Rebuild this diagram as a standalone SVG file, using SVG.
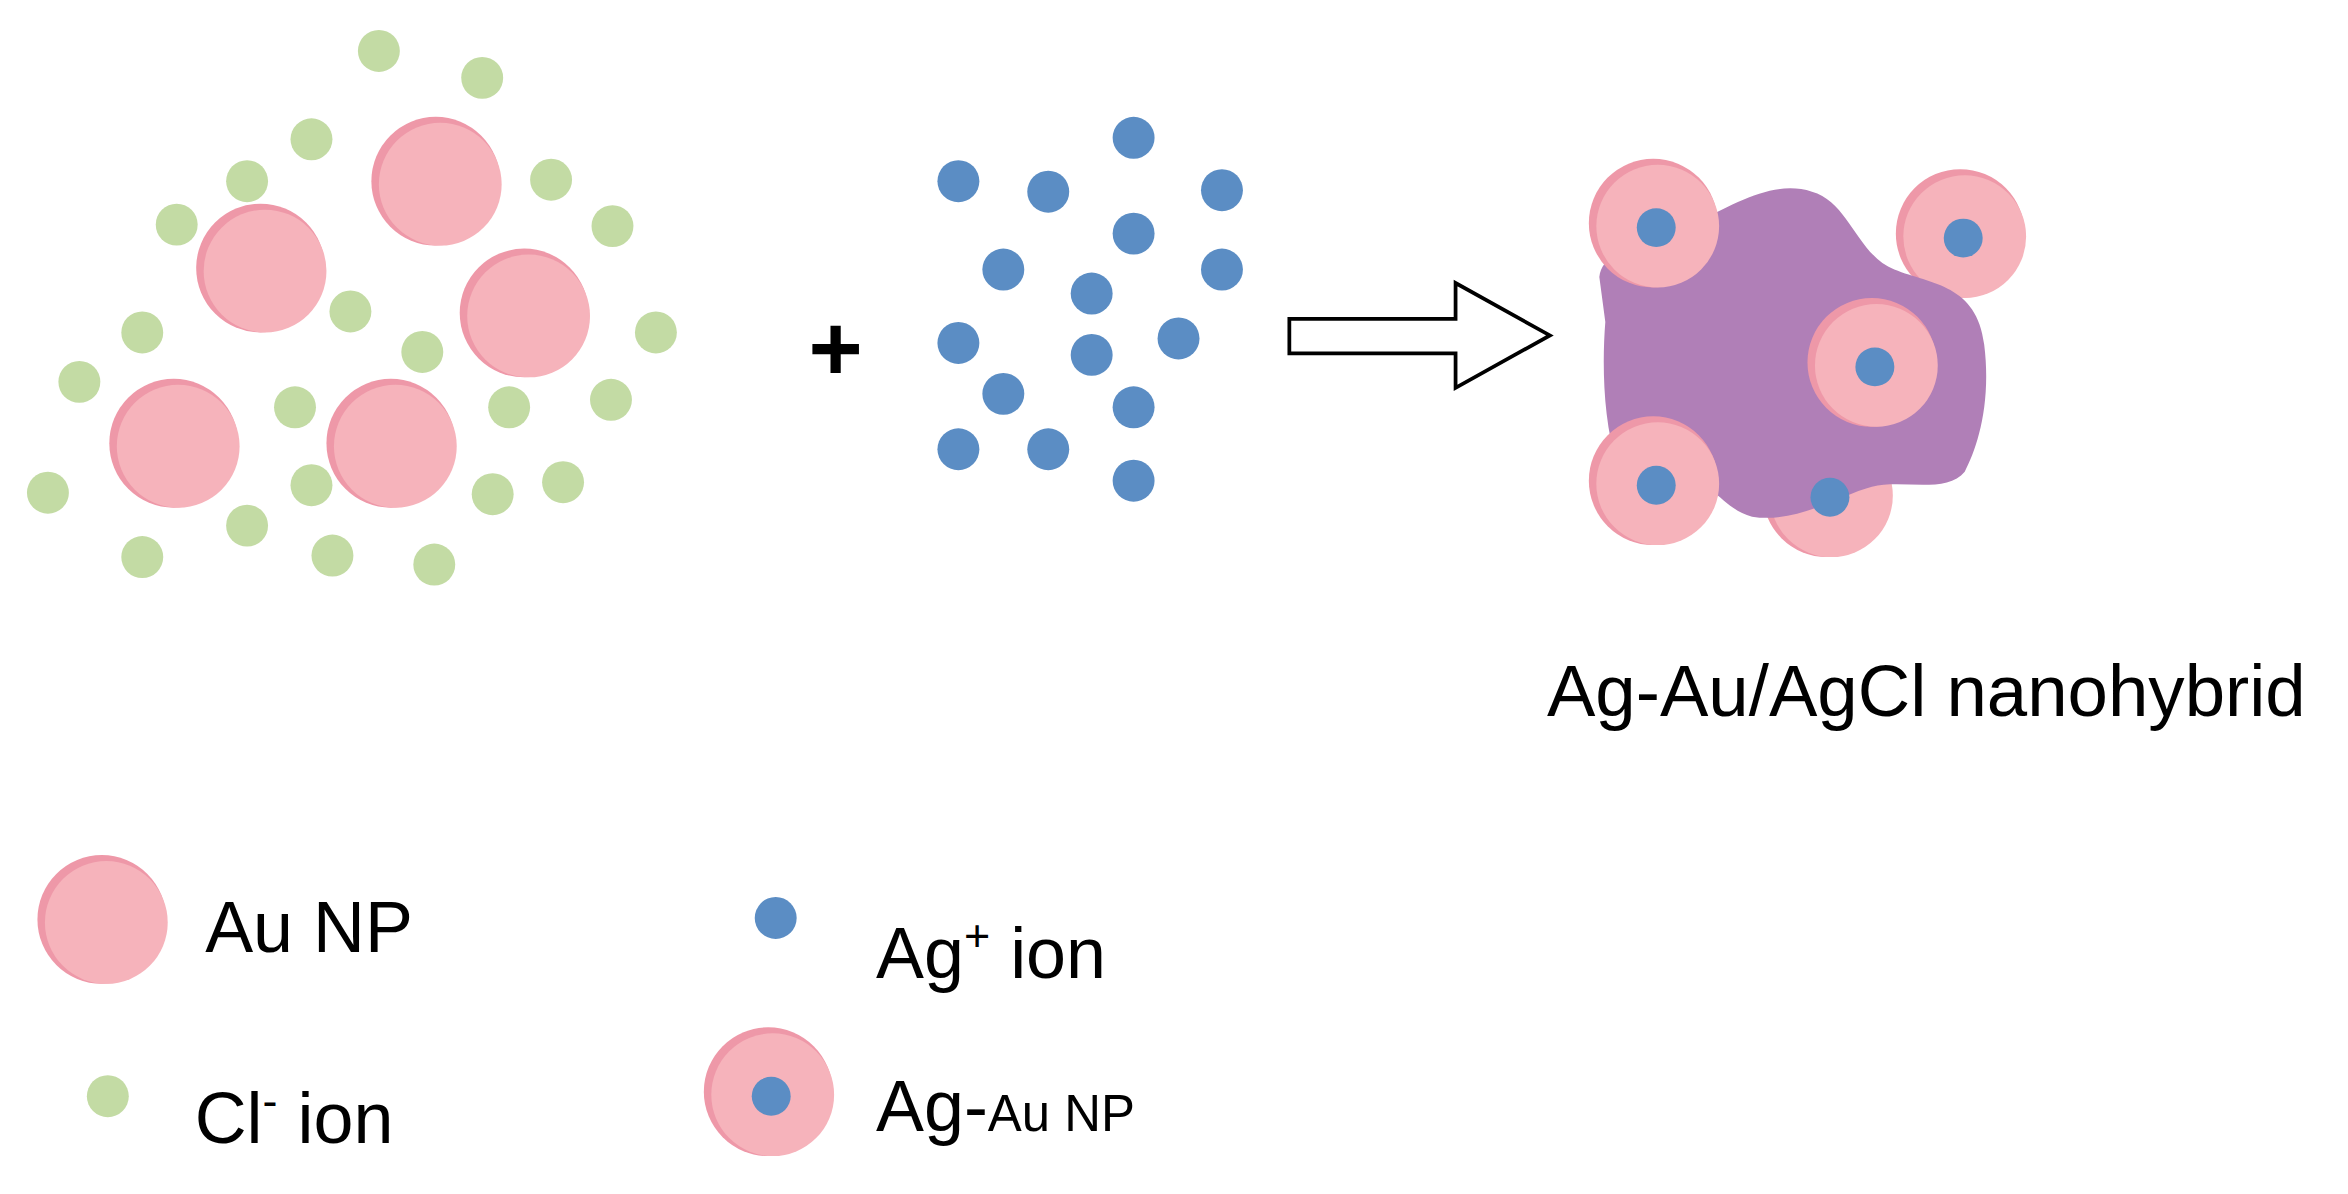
<svg xmlns="http://www.w3.org/2000/svg" width="2348" height="1194" viewBox="0 0 2348 1194">
<defs>
<style>
.g{fill:#c3dba4}.b{fill:#5b8dc4}.pe{fill:#ee98a8}.p{fill:#f6b3bb}
.t{font-family:"Liberation Sans",Arial,sans-serif;fill:#000}
</style>
<g id="au"><circle class="pe" cx="-2" cy="-1" r="43"/><circle class="p" cx="1" cy="1" r="41"/></g>
<g id="agnp"><use href="#au"/><circle class="b" cx="0" cy="2" r="13"/></g>
</defs>
<rect width="2348" height="1194" fill="#fff"/>
<g transform="scale(1.4975)">
<g id="cl-ions">
<circle class="g" cx="253" cy="34" r="14"/><circle class="g" cx="322" cy="52" r="14"/><circle class="g" cx="208" cy="93" r="14"/><circle class="g" cx="165" cy="121" r="14"/><circle class="g" cx="118" cy="150" r="14"/><circle class="g" cx="368" cy="120" r="14"/><circle class="g" cx="409" cy="151" r="14"/><circle class="g" cx="95" cy="222" r="14"/><circle class="g" cx="234" cy="208" r="14"/><circle class="g" cx="282" cy="235" r="14"/><circle class="g" cx="438" cy="222" r="14"/><circle class="g" cx="53" cy="255" r="14"/><circle class="g" cx="197" cy="272" r="14"/><circle class="g" cx="340" cy="272" r="14"/><circle class="g" cx="408" cy="267" r="14"/><circle class="g" cx="32" cy="329" r="14"/><circle class="g" cx="208" cy="324" r="14"/><circle class="g" cx="165" cy="351" r="14"/><circle class="g" cx="329" cy="330" r="14"/><circle class="g" cx="376" cy="322" r="14"/><circle class="g" cx="95" cy="372" r="14"/><circle class="g" cx="222" cy="371" r="14"/><circle class="g" cx="290" cy="377" r="14"/>
</g>
<g id="au-nps">
<use href="#au" x="293" y="122"/><use href="#au" x="176" y="180"/><use href="#au" x="352" y="210"/><use href="#au" x="118" y="297"/><use href="#au" x="263" y="297"/>
</g>
<g id="plus"><text class="t" x="558" y="254" font-size="62" font-weight="bold" text-anchor="middle">+</text></g>
<g id="ag-ions">
<circle class="b" cx="757" cy="92" r="14"/><circle class="b" cx="640" cy="121" r="14"/><circle class="b" cx="700" cy="128" r="14"/><circle class="b" cx="816" cy="127" r="14"/><circle class="b" cx="757" cy="156" r="14"/><circle class="b" cx="670" cy="180" r="14"/><circle class="b" cx="729" cy="196" r="14"/><circle class="b" cx="816" cy="180" r="14"/><circle class="b" cx="640" cy="229" r="14"/><circle class="b" cx="729" cy="237" r="14"/><circle class="b" cx="787" cy="226" r="14"/><circle class="b" cx="670" cy="263" r="14"/><circle class="b" cx="757" cy="272" r="14"/><circle class="b" cx="640" cy="300" r="14"/><circle class="b" cx="700" cy="300" r="14"/><circle class="b" cx="757" cy="321" r="14"/>
</g>
<g id="connectors"><path d="M861,213 H972 V189 L1035,224 L972,259 V236 H861 Z" fill="#fff" stroke="#000" stroke-width="2.5" stroke-linejoin="miter"/></g>
<g id="nanohybrid">
<use href="#au" x="1311" y="157"/><use href="#au" x="1222" y="330"/>
<path d="M1068,185 C1070,165 1100,165 1130,150 C1160,135 1185,120 1210,128 C1235,135 1240,170 1265,180 C1290,190 1320,190 1325,230 C1330,270 1320,300 1312,315 C1300,330 1270,320 1250,325 C1230,330 1200,350 1170,345 C1150,340 1145,320 1120,320 L1080,310 C1070,280 1070,240 1072,215 Z" fill="#b07fb7"/>
<circle class="b" cx="1311" cy="159" r="13"/><circle class="b" cx="1222" cy="332" r="13"/>
<use href="#agnp" x="1106" y="150"/><use href="#agnp" x="1252" y="243"/><use href="#agnp" x="1106" y="322"/>
<text class="t" x="1033" y="478" font-size="48.5">Ag-Au/AgCl nanohybrid</text>
</g>
<g id="legend">
<use href="#au" x="70" y="615"/><text class="t" x="137" y="636" font-size="48">Au NP</text>
<circle class="g" cx="72" cy="732" r="14"/><text class="t" x="130" y="763" font-size="48">Cl<tspan font-size="30" dy="-18">-</tspan><tspan dy="18"> ion</tspan></text>
<circle class="b" cx="518" cy="613" r="14"/><text class="t" x="585" y="653" font-size="48">Ag<tspan font-size="30" dy="-18">+</tspan><tspan dy="18"> ion</tspan></text>
<use href="#agnp" x="515" y="730"/><text class="t" x="585" y="755" font-size="48">Ag-<tspan font-size="34">Au NP</tspan></text>
</g>
</g>
</svg>
